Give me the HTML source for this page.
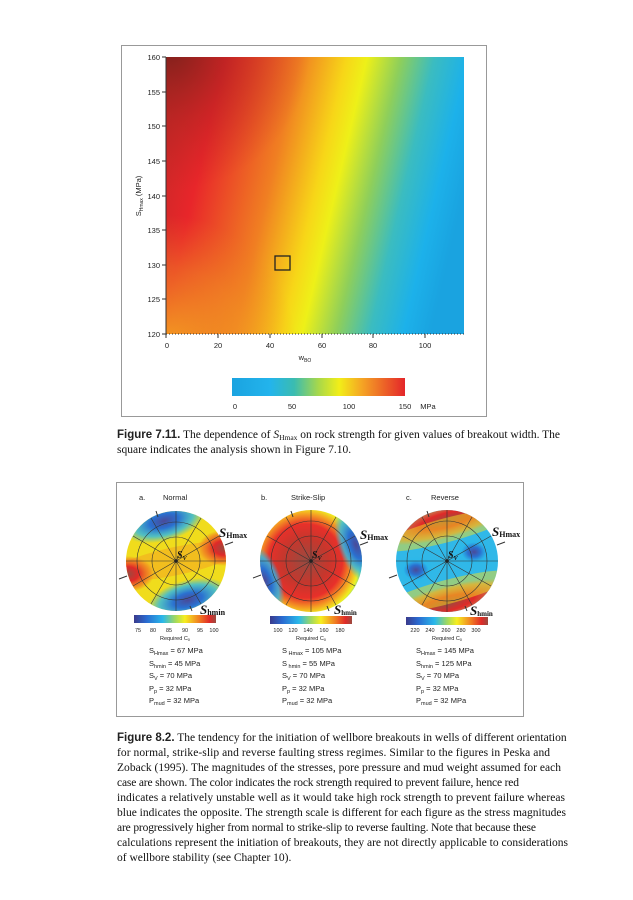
<!DOCTYPE html>
<html><head><meta charset="utf-8"><style>
html,body{margin:0;padding:0;background:#fff;}
svg{display:block}
.s{font-family:"Liberation Sans",sans-serif;fill:#222}
.r{font-family:"Liberation Serif",serif;fill:#111}
</style></head><body>
<svg width="633" height="900" viewBox="0 0 633 900" xmlns="http://www.w3.org/2000/svg">
<defs>
<linearGradient id="hm" gradientUnits="userSpaceOnUse" x1="136" y1="150" x2="456" y2="225">
<stop offset="0" stop-color="#b82a26"/>
<stop offset="0.2" stop-color="#e8262a"/>
<stop offset="0.42" stop-color="#f07f22"/>
<stop offset="0.56" stop-color="#f7d618"/>
<stop offset="0.62" stop-color="#eef018"/>
<stop offset="0.72" stop-color="#8fcf5a"/>
<stop offset="0.82" stop-color="#3bbcc0"/>
<stop offset="0.92" stop-color="#1cb1ea"/>
<stop offset="1" stop-color="#1aa3e0"/>
</linearGradient>
<radialGradient id="dk" gradientUnits="userSpaceOnUse" cx="170" cy="50" r="140">
<stop offset="0" stop-color="#7a1f1a" stop-opacity="0.9"/>
<stop offset="0.5" stop-color="#a8221f" stop-opacity="0.45"/>
<stop offset="1" stop-color="#c02222" stop-opacity="0"/>
</radialGradient>
<radialGradient id="bo" gradientUnits="userSpaceOnUse" cx="166" cy="345" r="130">
<stop offset="0" stop-color="#f5b020" stop-opacity="0.85"/>
<stop offset="0.6" stop-color="#f29a22" stop-opacity="0.4"/>
<stop offset="1" stop-color="#f07f22" stop-opacity="0"/>
</radialGradient>
<linearGradient id="cb" x1="0" x2="1" y1="0" y2="0">
<stop offset="0" stop-color="#1aa3e0"/>
<stop offset="0.22" stop-color="#23b4ec"/>
<stop offset="0.36" stop-color="#3bbcb0"/>
<stop offset="0.5" stop-color="#a8d84a"/>
<stop offset="0.62" stop-color="#f2ee18"/>
<stop offset="0.75" stop-color="#f5a524"/>
<stop offset="1" stop-color="#e4262a"/>
</linearGradient>
<linearGradient id="jet" x1="0" x2="1" y1="0" y2="0">
<stop offset="0" stop-color="#3a3a8c"/>
<stop offset="0.15" stop-color="#2a6ad0"/>
<stop offset="0.35" stop-color="#2ab8ea"/>
<stop offset="0.5" stop-color="#9fd860"/>
<stop offset="0.62" stop-color="#f6ee20"/>
<stop offset="0.8" stop-color="#f07a22"/>
<stop offset="0.92" stop-color="#e02a28"/>
<stop offset="1" stop-color="#9a4a40"/>
</linearGradient>
<clipPath id="ca"><circle cx="176" cy="561" r="50"/></clipPath>
<clipPath id="cbp"><circle cx="311" cy="561" r="51"/></clipPath>
<clipPath id="cc"><circle cx="447" cy="561" r="51"/></clipPath>
<radialGradient id="blue"><stop offset="0" stop-color="#4a4a98"/><stop offset="0.35" stop-color="#2a70d0"/><stop offset="0.7" stop-color="#2ab8ea" stop-opacity="0.8"/><stop offset="1" stop-color="#2ab8ea" stop-opacity="0"/></radialGradient>
<radialGradient id="red"><stop offset="0" stop-color="#9a4a40"/><stop offset="0.4" stop-color="#e02a28"/><stop offset="0.8" stop-color="#f07a22" stop-opacity="0.7"/><stop offset="1" stop-color="#f07a22" stop-opacity="0"/></radialGradient>
<radialGradient id="ssb" cx="0.45" cy="0.5" r="0.6"><stop offset="0" stop-color="#9a4a40"/><stop offset="0.35" stop-color="#c8362c"/><stop offset="0.55" stop-color="#e8302a"/><stop offset="0.7" stop-color="#f5a022"/><stop offset="0.8" stop-color="#eef020"/><stop offset="0.9" stop-color="#2ab8ea"/><stop offset="1" stop-color="#2a5ac0"/></radialGradient>
</defs>

<rect x="121.5" y="45.5" width="365" height="371" fill="#fff" stroke="#999" stroke-width="1"/>
<rect x="166" y="57" width="298" height="277" fill="url(#hm)"/>
<rect x="166" y="57" width="298" height="277" fill="url(#dk)"/>
<rect x="166" y="57" width="298" height="277" fill="url(#bo)"/>
<rect x="275" y="256" width="15" height="14" fill="none" stroke="#222" stroke-width="1.3"/>
<line x1="166" y1="334" x2="464" y2="334" stroke="#333" stroke-dasharray="1,2"/>
<line x1="166" y1="57" x2="166" y2="334" stroke="#333"/>
<g stroke="#333">
<line x1="162" y1="57" x2="166" y2="57"/><line x1="162" y1="92" x2="166" y2="92"/><line x1="162" y1="126" x2="166" y2="126"/><line x1="162" y1="161" x2="166" y2="161"/><line x1="162" y1="196" x2="166" y2="196"/><line x1="162" y1="230" x2="166" y2="230"/><line x1="162" y1="265" x2="166" y2="265"/><line x1="162" y1="299" x2="166" y2="299"/><line x1="162" y1="334" x2="166" y2="334"/>
<line x1="166" y1="334" x2="166" y2="338"/><line x1="218" y1="334" x2="218" y2="338"/><line x1="270" y1="334" x2="270" y2="338"/><line x1="322" y1="334" x2="322" y2="338"/><line x1="373" y1="334" x2="373" y2="338"/><line x1="425" y1="334" x2="425" y2="338"/>
</g>
<g class="s" font-size="7.5" text-anchor="end">
<text x="160" y="60">160</text><text x="160" y="95">155</text><text x="160" y="129">150</text><text x="160" y="164">145</text><text x="160" y="199">140</text><text x="160" y="233">135</text><text x="160" y="268">130</text><text x="160" y="302">125</text><text x="160" y="337">120</text>
</g>
<g class="s" font-size="7.5" text-anchor="middle">
<text x="167" y="348">0</text><text x="218" y="348">20</text><text x="270" y="348">40</text><text x="322" y="348">60</text><text x="373" y="348">80</text><text x="425" y="348">100</text>
<text x="305" y="360">w<tspan font-size="5" dy="2">BO</tspan></text>
</g>
<text class="s" font-size="7.5" transform="translate(141,196) rotate(-90)" text-anchor="middle">S<tspan font-size="5" dy="2">Hmax</tspan><tspan dy="-2"> (MPa)</tspan></text>
<rect x="232" y="378" width="173" height="18" fill="url(#cb)"/>
<g class="s" font-size="7.5" text-anchor="middle">
<text x="235" y="409">0</text><text x="292" y="409">50</text><text x="349" y="409">100</text><text x="405" y="409">150</text><text x="428" y="409">MPa</text>
</g>

<text class="r" font-size="11.5" x="117" y="438"><tspan class="s" font-weight="bold" style="font-family:'Liberation Sans Narrow','Liberation Sans',sans-serif">Figure 7.11.</tspan> The dependence of <tspan font-style="italic">S</tspan><tspan font-size="7.5" dy="2">Hmax</tspan><tspan dy="-2"> on rock strength for given values of breakout width. The</tspan></text>
<text class="r" font-size="11.5" x="117" y="453">square indicates the analysis shown in Figure 7.10.</text>

<rect x="116.5" y="482.5" width="407" height="234" fill="#fff" stroke="#999"/>
<g class="s" font-size="7.5">
<text x="139" y="500">a.</text><text x="163" y="500">Normal</text>
<text x="261" y="500">b.</text><text x="291" y="500">Strike-Slip</text>
<text x="406" y="500">c.</text><text x="431" y="500">Reverse</text>
</g>

<g clip-path="url(#ca)">
<rect x="120" y="505" width="112" height="112" fill="#f0dc1c"/>
<ellipse cx="176" cy="561" rx="70" ry="14" fill="#f3a020" opacity="0.5" transform="rotate(-12 176 561)"/>
<ellipse cx="128" cy="574" rx="26" ry="18" fill="url(#red)"/>
<ellipse cx="224" cy="548" rx="26" ry="18" fill="url(#red)"/>
<ellipse cx="164" cy="521" rx="42" ry="20" fill="url(#blue)" transform="rotate(-15 164 521)"/>
<ellipse cx="188" cy="600" rx="42" ry="20" fill="url(#blue)" transform="rotate(-15 188 600)"/>
</g>
<g clip-path="url(#cbp)">
<rect x="255" y="505" width="112" height="112" fill="url(#ssb)"/>
<ellipse cx="356" cy="545" rx="18" ry="40" fill="url(#blue)" transform="rotate(-20 356 545)"/>
<ellipse cx="265" cy="580" rx="16" ry="36" fill="url(#blue)" transform="rotate(-20 265 580)"/>
</g>
<g clip-path="url(#cc)">
<rect x="391" y="505" width="112" height="112" fill="#30b8e8"/>
<ellipse cx="447" cy="520" rx="70" ry="18" fill="url(#red)" transform="rotate(-15 447 520)"/>
<ellipse cx="447" cy="604" rx="70" ry="18" fill="url(#red)" transform="rotate(-15 447 604)"/>
<ellipse cx="447" cy="530" rx="70" ry="12" fill="#f2e020" opacity="0.5" transform="rotate(-15 447 530)"/>
<ellipse cx="447" cy="592" rx="70" ry="12" fill="#f2e020" opacity="0.5" transform="rotate(-15 447 592)"/>
<ellipse cx="474" cy="552" rx="18" ry="14" fill="url(#blue)"/>
<ellipse cx="416" cy="570" rx="18" ry="14" fill="url(#blue)"/>
</g>

<g fill="none" stroke="#333" stroke-width="0.6">
<circle cx="176" cy="561" r="24"/><circle cx="176" cy="561" r="39"/>
<circle cx="311" cy="561" r="25"/><circle cx="311" cy="561" r="40"/>
<circle cx="447" cy="561" r="25"/><circle cx="447" cy="561" r="40"/>
</g>
<g stroke="#333" stroke-width="0.6">
<path d="M176 511V611M126 561H226M219 536L133 586M219 586L133 536M201 518L151 604M151 518L201 604"/>
<path d="M311 510V612M260 561H362M355 536L267 586M355 586L267 536M336 517L286 605M286 517L336 605"/>
<path d="M447 510V612M396 561H498M491 536L403 586M491 586L403 536M472 517L422 605M422 517L472 605"/>
</g>
<g fill="#222"><circle cx="176" cy="561" r="1.8"/><circle cx="311" cy="561" r="1.8"/><circle cx="447" cy="561" r="1.8"/></g>
<g stroke="#333" stroke-width="1">
<path d="M225 545l8-3M119 579l8-3M158 517l-2-6M190 606l2 5"/>
<path d="M360 545l8-3M253 578l8-3M293 517l-2-6M327 606l2 5"/>
<path d="M497 545l8-3M389 578l8-3M429 517l-2-6M465 606l2 5"/>
</g>
<g class="r" font-weight="bold" font-style="italic">
<text x="177" y="558" font-size="10">S<tspan font-size="6" dy="2">V</tspan></text>
<text x="312" y="558" font-size="10">S<tspan font-size="6" dy="2">V</tspan></text>
<text x="448" y="558" font-size="10">S<tspan font-size="6" dy="2">V</tspan></text>
<text x="219" y="537" font-size="13">S<tspan font-size="8" font-style="normal" dy="1">Hmax</tspan></text>
<text x="360" y="539" font-size="13">S<tspan font-size="8" font-style="normal" dy="1">Hmax</tspan></text>
<text x="492" y="536" font-size="13">S<tspan font-size="8" font-style="normal" dy="1">Hmax</tspan></text>
<text x="200" y="614" font-size="13">S<tspan font-size="8" font-style="normal" dy="1">hmin</tspan></text>
<text x="334" y="614" font-size="13">S<tspan font-size="7" font-style="normal" dy="1">hmin</tspan></text>
<text x="470" y="615" font-size="13">S<tspan font-size="7" font-style="normal" dy="1">hmin</tspan></text>
</g>

<rect x="134" y="615" width="82" height="8" fill="url(#jet)"/>
<rect x="270" y="616" width="82" height="8" fill="url(#jet)"/>
<rect x="406" y="617" width="82" height="8" fill="url(#jet)"/>
<g class="s" font-size="5.5" text-anchor="middle">
<text x="138" y="632">75</text><text x="153" y="632">80</text><text x="169" y="632">85</text><text x="185" y="632">90</text><text x="200" y="632">95</text><text x="214" y="632">100</text>
<text x="175" y="640">Required C<tspan font-size="4" dy="1">0</tspan></text>
<text x="278" y="632">100</text><text x="293" y="632">120</text><text x="308" y="632">140</text><text x="324" y="632">160</text><text x="340" y="632">180</text>
<text x="311" y="640">Required C<tspan font-size="4" dy="1">0</tspan></text>
<text x="415" y="632">220</text><text x="430" y="632">240</text><text x="446" y="632">260</text><text x="461" y="632">280</text><text x="476" y="632">300</text>
<text x="447" y="640">Required C<tspan font-size="4" dy="1">0</tspan></text>
</g>

<g class="s" font-size="7.5">
<text x="149" y="653">S<tspan font-size="5.5" dy="2">Hmax</tspan><tspan dy="-2"> = 67 MPa</tspan></text>
<text x="149" y="666">S<tspan font-size="5.5" dy="2">hmin</tspan><tspan dy="-2"> = 45 MPa</tspan></text>
<text x="149" y="678">S<tspan font-size="5.5" dy="2">V</tspan><tspan dy="-2"> = 70 MPa</tspan></text>
<text x="149" y="691">P<tspan font-size="5.5" dy="2">p</tspan><tspan dy="-2"> = 32 MPa</tspan></text>
<text x="149" y="703">P<tspan font-size="5.5" dy="2">mud</tspan><tspan dy="-2"> = 32 MPa</tspan></text>

<text x="282" y="653">S<tspan font-size="5.5" dy="2"> Hmax</tspan><tspan dy="-2"> = 105 MPa</tspan></text>
<text x="282" y="666">S<tspan font-size="5.5" dy="2"> hmin</tspan><tspan dy="-2"> = 55 MPa</tspan></text>
<text x="282" y="678">S<tspan font-size="5.5" dy="2">V</tspan><tspan dy="-2"> = 70 MPa</tspan></text>
<text x="282" y="691">P<tspan font-size="5.5" dy="2">p</tspan><tspan dy="-2"> = 32 MPa</tspan></text>
<text x="282" y="703">P<tspan font-size="5.5" dy="2">mud</tspan><tspan dy="-2"> = 32 MPa</tspan></text>

<text x="416" y="653">S<tspan font-size="5.5" dy="2">Hmax</tspan><tspan dy="-2"> = 145 MPa</tspan></text>
<text x="416" y="666">S<tspan font-size="5.5" dy="2">hmin</tspan><tspan dy="-2"> = 125 MPa</tspan></text>
<text x="416" y="678">S<tspan font-size="5.5" dy="2">V</tspan><tspan dy="-2"> = 70 MPa</tspan></text>
<text x="416" y="691">P<tspan font-size="5.5" dy="2">p</tspan><tspan dy="-2"> = 32 MPa</tspan></text>
<text x="416" y="703">P<tspan font-size="5.5" dy="2">mud</tspan><tspan dy="-2"> = 32 MPa</tspan></text>
</g>

<g class="r" font-size="11.5">
<text x="117" y="741"><tspan class="s" font-weight="bold" style="font-family:'Liberation Sans Narrow','Liberation Sans',sans-serif">Figure 8.2.</tspan> The tendency for the initiation of wellbore breakouts in wells of different orientation</text>
<text x="117" y="756" textLength="433" lengthAdjust="spacing">for normal, strike-slip and reverse faulting stress regimes. Similar to the figures in Peska and</text>
<text x="117" y="771" textLength="444" lengthAdjust="spacing">Zoback (1995). The magnitudes of the stresses, pore pressure and mud weight assumed for each</text>
<text x="117" y="786" textLength="402" lengthAdjust="spacing">case are shown. The color indicates the rock strength required to prevent failure, hence red</text>
<text x="117" y="801" textLength="448" lengthAdjust="spacing">indicates a relatively unstable well as it would take high rock strength to prevent failure whereas</text>
<text x="117" y="816" textLength="449" lengthAdjust="spacing">blue indicates the opposite. The strength scale is different for each figure as the stress magnitudes</text>
<text x="117" y="831" textLength="419" lengthAdjust="spacing">are progressively higher from normal to strike-slip to reverse faulting. Note that because these</text>
<text x="117" y="846" textLength="451" lengthAdjust="spacing">calculations represent the initiation of breakouts, they are not directly applicable to considerations</text>
<text x="117" y="861">of wellbore stability (see Chapter 10).</text>
</g>
</svg>
</body></html>
